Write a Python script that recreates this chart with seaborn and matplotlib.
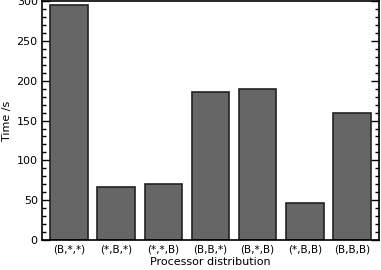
import matplotlib
matplotlib.use("Agg")
import matplotlib.pyplot as plt
import seaborn as sns
import pandas as pd
from matplotlib.ticker import MultipleLocator

distributions = ["(B,*,*)", "(*,B,*)", "(*,*,B)", "(B,B,*)", "(B,*,B)", "(*,B,B)", "(B,B,B)"]
times = [295, 66, 70, 186, 190, 46, 159]

df = pd.DataFrame({"dist": distributions, "time": times})

sns.set_style("ticks")
plt.rcParams["font.family"] = ["DejaVu Sans"]
plt.rcParams["text.color"] = "black"
plt.rcParams["axes.labelcolor"] = "black"
plt.rcParams["xtick.color"] = "black"
plt.rcParams["ytick.color"] = "black"

fig = plt.figure(figsize=(3.81, 2.70), dpi=100)
ax = fig.add_axes([0.110, 0.111, 0.885, 0.885])

sns.barplot(data=df, x="dist", y="time", color="#666666", width=0.8,
            edgecolor="#222222", linewidth=1.2, saturation=1, ax=ax)

ax.set_xlim(-0.58, 6.58)
ax.set_ylim(0, 300)
ax.yaxis.set_major_locator(MultipleLocator(50))
ax.yaxis.set_minor_locator(MultipleLocator(10))
ax.tick_params(axis="y", which="major", direction="in", length=6, width=1,
               right=True, labelsize=8, pad=3)
ax.tick_params(axis="y", which="minor", direction="in", length=3, width=1, right=True)
ax.tick_params(axis="x", direction="in", length=6, width=1, top=False, labelsize=7.5, pad=3)
for s in ax.spines.values():
    s.set_visible(True)
    s.set_linewidth(1.2)
    s.set_color("black")

ax.set_xlabel("Processor distribution", fontsize=8, labelpad=2)
ax.set_ylabel("Time /s", fontsize=8, labelpad=3)

fig.savefig("out.png", dpi=100)
